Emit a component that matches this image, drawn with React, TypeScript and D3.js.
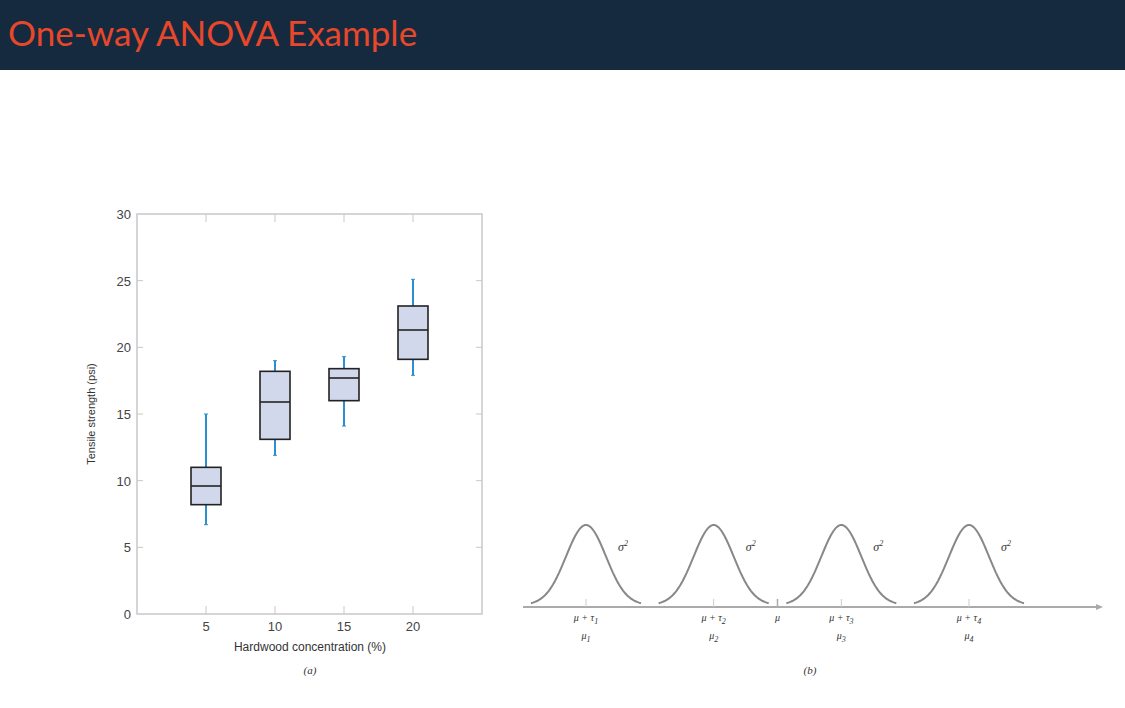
import * as d3 from "d3";

const concentrations = [5, 10, 15, 20];
const whiskerLow = [6.7, 11.9, 14.1, 17.9];
const q1 = [8.2, 13.1, 16.0, 19.1];
const median = [9.6, 15.9, 17.7, 21.3];
const q3 = [11.0, 18.2, 18.4, 23.1];
const whiskerHigh = [15.0, 19.0, 19.3, 25.1];
const yTicks = [0, 5, 10, 15, 20, 25, 30];

// panel (b): group means on an arbitrary axis
const groupMeans = [1, 2, 3, 4];
const grandMean = 2.5;
const taus = ["1", "2", "3", "4"];

const W = 1125;
const H = 708;

export default function App() {
  const x = d3.scaleLinear().domain([0, 25]).range([137, 482]);
  const y = d3.scaleLinear().domain([0, 30]).range([614, 214]);
  const boxW = 30;

  const xb = d3.scaleLinear().domain([1, 4]).range([586, 969]);
  const base = 607;
  const curveY = d3.scaleLinear().domain([0, 1]).range([base - 2, 525]);
  const curve = d3
    .line<number>()
    .x((d) => d)
    .y((d, _i) => 0)
    .curve(d3.curveBasis);

  const bell = (c: number) => {
    const pts = d3.range(-55, 55.1, 2).map((dx) => [c + dx, curveY(Math.exp(-(dx * dx) / (2 * 20 * 20)))] as [number, number]);
    return d3.line()(pts) as string;
  };
  void curve;

  const font = "'Liberation Sans', Arial, sans-serif";
  const serif = "'Liberation Serif', 'DejaVu Serif', serif";

  return (
    <svg width={W} height={H} style={{ position: "absolute", left: 0, top: 0 }}>
      <rect x={0} y={0} width={W} height={H} fill="#fff" />
      <rect x={0} y={0} width={W} height={70} fill="#152a3f" />
      <text x={8} y={46} fill="#e8472a" fontSize={35} fontFamily="Lato, 'Open Sans', sans-serif">
        One-way ANOVA Example
      </text>

      {/* panel (a) */}
      <g fontFamily={font}>
        <rect x={137} y={214} width={345} height={400} fill="none" stroke="#c8c8c8" strokeWidth={1.5} />
        {yTicks.map((t) => (
          <g key={t}>
            <text x={131} y={y(t) + 5} textAnchor="end" fontSize={13} fill="#444">
              {t}
            </text>
            {t > 0 && t < 30 && (
              <>
                <line x1={137} x2={143} y1={y(t)} y2={y(t)} stroke="#c8c8c8" />
                <line x1={476} x2={482} y1={y(t)} y2={y(t)} stroke="#c8c8c8" />
              </>
            )}
          </g>
        ))}
        {concentrations.map((c) => (
          <g key={c}>
            <line x1={x(c)} x2={x(c)} y1={614} y2={606} stroke="#c8c8c8" />
            <line x1={x(c)} x2={x(c)} y1={214} y2={222} stroke="#c8c8c8" />
            <text x={x(c)} y={631} textAnchor="middle" fontSize={13} fill="#444">
              {c}
            </text>
          </g>
        ))}
        {concentrations.map((c, i) => (
          <g key={"b" + c}>
            <line x1={x(c)} x2={x(c)} y1={y(whiskerLow[i])} y2={y(whiskerHigh[i])} stroke="#2b8fd0" strokeWidth={2} />
            <line x1={x(c) - 2} x2={x(c) + 2} y1={y(whiskerLow[i])} y2={y(whiskerLow[i])} stroke="#2b8fd0" />
            <line x1={x(c) - 2} x2={x(c) + 2} y1={y(whiskerHigh[i])} y2={y(whiskerHigh[i])} stroke="#2b8fd0" />
            <rect
              x={x(c) - boxW / 2}
              y={y(q3[i])}
              width={boxW}
              height={y(q1[i]) - y(q3[i])}
              fill="#d2d8ec"
              stroke="#222"
              strokeWidth={1.6}
            />
            <line x1={x(c) - boxW / 2} x2={x(c) + boxW / 2} y1={y(median[i])} y2={y(median[i])} stroke="#222" strokeWidth={1.6} />
          </g>
        ))}
        <text x={310} y={651} textAnchor="middle" fontSize={12} fill="#333">
          Hardwood concentration (%)
        </text>
        <text x={310} y={674} textAnchor="middle" fontSize={11} fontStyle="italic" fill="#333" fontFamily={serif}>
          (a)
        </text>
        <text transform="translate(95,414) rotate(-90)" textAnchor="middle" fontSize={11} fill="#333">
          Tensile strength (psi)
        </text>
      </g>

      {/* panel (b) */}
      <g fontFamily={serif} fill="#333">
        <line x1={523} x2={1100} y1={base} y2={base} stroke="#aaa" strokeWidth={2} />
        <path d={`M1096,${base - 3} L1103,${base} L1096,${base + 3}`} fill="#aaa" />
        <line x1={xb(grandMean)} x2={xb(grandMean)} y1={base - 8} y2={base} stroke="#aaa" strokeWidth={1.5} />
        <text x={xb(grandMean)} y={621} textAnchor="middle" fontSize={10} fontStyle="italic">
          μ
        </text>
        {groupMeans.map((m, i) => (
          <g key={m}>
            <path d={bell(xb(m))} fill="none" stroke="#888" strokeWidth={2} />
            <line x1={xb(m)} x2={xb(m)} y1={base - 8} y2={base} stroke="#ccc" />
            <text x={xb(m) + 37} y={551} fontSize={12} fontStyle="italic" textAnchor="middle">
              σ<tspan fontSize={8} dy={-5}>2</tspan>
            </text>
            <text x={xb(m)} y={621} textAnchor="middle" fontSize={10} fontStyle="italic">
              μ + τ<tspan fontSize={8} dy={3}>{taus[i]}</tspan>
            </text>
            <text x={xb(m)} y={639} textAnchor="middle" fontSize={10} fontStyle="italic">
              μ<tspan fontSize={8} dy={3}>{taus[i]}</tspan>
            </text>
          </g>
        ))}
        <text x={810} y={674} textAnchor="middle" fontSize={11} fontStyle="italic">
          (b)
        </text>
      </g>
    </svg>
  );
}
